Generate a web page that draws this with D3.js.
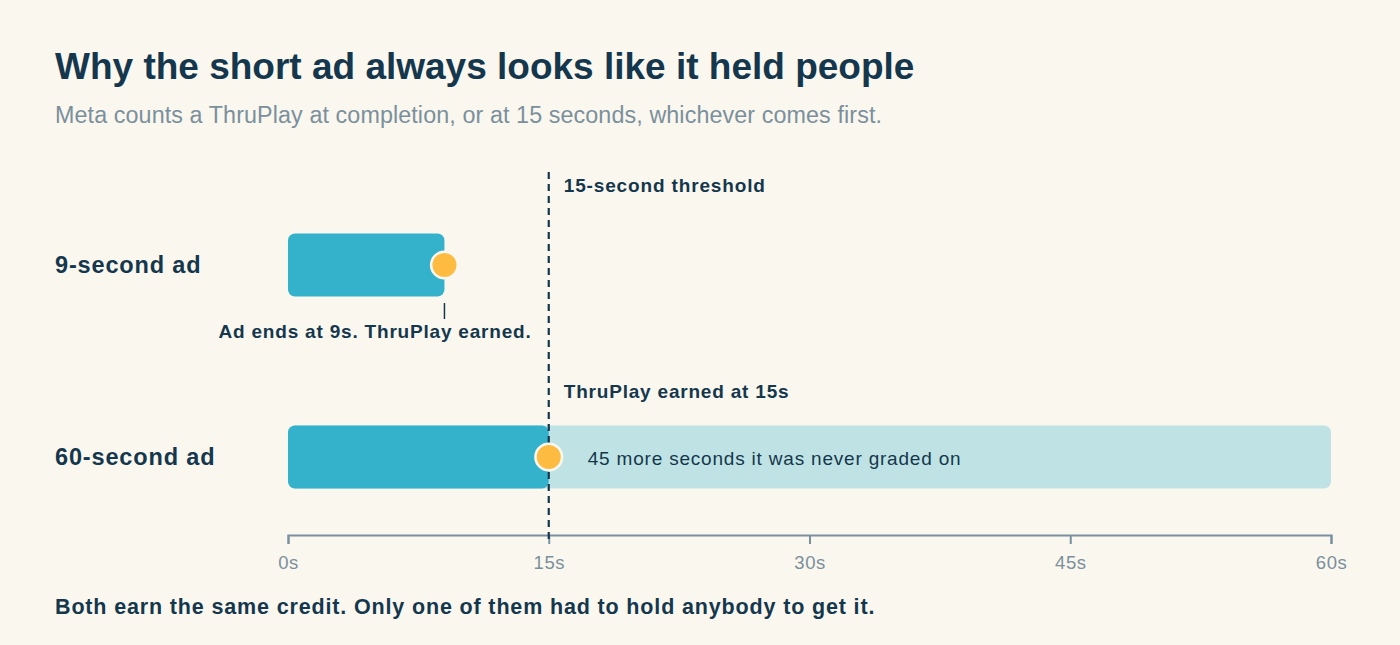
<!DOCTYPE html>
<html><head><meta charset="utf-8">
<script src="https://cdn.jsdelivr.net/npm/d3@7"></script>
<style>
html,body{margin:0;padding:0;background:#faf7ef;}
svg{display:block;font-family:"Liberation Sans",Arial,Helvetica,sans-serif;}
</style></head><body>
<svg id="c" width="1400" height="645"></svg>
<script>
const categories = ["9-second ad", "60-second ad"];
const adLengths = [9, 60];
const creditAt = [9, 15];
const threshold = 15;
const tickValues = [0, 15, 30, 45, 60];
const tickLabels = ["0s", "15s", "30s", "45s", "60s"];

const dark = "#15374d";
const svg = d3.select("#c");
svg.append("rect").attr("width",1400).attr("height",645).attr("fill","#faf7ef");

svg.append("text").attr("x",55).attr("y",79).attr("fill",dark)
  .attr("font-size",37).attr("font-weight",700).text("Why the short ad always looks like it held people");
svg.append("text").attr("x",55).attr("y",123).attr("fill","#7b909c")
  .attr("font-size",23.3).attr("letter-spacing",0.1).text("Meta counts a ThruPlay at completion, or at 15 seconds, whichever comes first.");

const x = d3.scaleLinear().domain([0,60]).range([288,1331]);
const rowY = d3.scalePoint().domain(categories).range([265,457]);
const bh = 63;

// axis
const axis = d3.axisBottom(x).tickValues(tickValues).tickFormat((d,i)=>tickLabels[i]).tickSize(9).tickSizeOuter(9);
const ag = svg.append("g").attr("transform","translate(0,535)").call(axis);
ag.select(".domain").attr("stroke","#7890a0").attr("stroke-width",2);
ag.selectAll(".tick line").attr("stroke","#7890a0").attr("stroke-width",2);
ag.selectAll(".tick text").attr("fill","#7b909c").attr("font-size",18.5).attr("letter-spacing",0.5)
  .attr("y",21).attr("dy","0.71em")
  .attr("font-family","Liberation Sans, Arial, sans-serif");

// category labels
categories.forEach(c=>{
  svg.append("text").attr("x",55).attr("y",rowY(c)+7.8).attr("fill",dark)
    .attr("font-size",23.5).attr("letter-spacing",0.85).attr("font-weight",700).text(c);
});

// bars
categories.forEach((c,i)=>{
  if (adLengths[i] > creditAt[i]) {
    svg.append("rect").attr("x",x(0)).attr("y",rowY(c)-bh/2).attr("width",x(adLengths[i])-x(0)).attr("height",bh)
      .attr("rx",7).attr("fill","#bfe3e4");
  }
  svg.append("rect").attr("x",x(0)).attr("y",rowY(c)-bh/2).attr("width",x(creditAt[i])-x(0)).attr("height",bh)
    .attr("rx",7).attr("fill","#35b2cb");
});

// threshold line
svg.append("line").attr("x1",x(threshold)).attr("x2",x(threshold)).attr("y1",172).attr("y2",542)
  .attr("stroke",dark).attr("stroke-width",2.2).attr("stroke-dasharray","7,5");

// dots
categories.forEach((c,i)=>{
  svg.append("circle").attr("cx",x(creditAt[i])).attr("cy",rowY(c)).attr("r",13.3)
    .attr("fill","#fdbb42").attr("stroke","#faf7ef").attr("stroke-width",2.6);
});

// annotations
svg.append("text").attr("x",x(threshold)+15).attr("y",191.5).attr("fill",dark)
  .attr("font-size",19).attr("letter-spacing",0.85).attr("font-weight",700).text("15-second threshold");
svg.append("line").attr("x1",x(9)).attr("x2",x(9)).attr("y1",303).attr("y2",319)
  .attr("stroke",dark).attr("stroke-width",1.5);
svg.append("text").attr("x",375).attr("y",337.5).attr("text-anchor","middle").attr("fill",dark)
  .attr("font-size",19).attr("letter-spacing",0.8).attr("font-weight",700).text("Ad ends at 9s. ThruPlay earned.");
svg.append("text").attr("x",x(threshold)+15).attr("y",397.5).attr("fill",dark)
  .attr("font-size",19).attr("letter-spacing",0.8).attr("font-weight",700).text("ThruPlay earned at 15s");
svg.append("text").attr("x",x(threshold)+39).attr("y",464.5).attr("fill",dark)
  .attr("font-size",19).attr("letter-spacing",0.8).text("45 more seconds it was never graded on");

svg.append("text").attr("x",55).attr("y",613.5).attr("fill",dark)
  .attr("font-size",21.5).attr("letter-spacing",0.85).attr("font-weight",700).text("Both earn the same credit. Only one of them had to hold anybody to get it.");
</script>
</body></html>
